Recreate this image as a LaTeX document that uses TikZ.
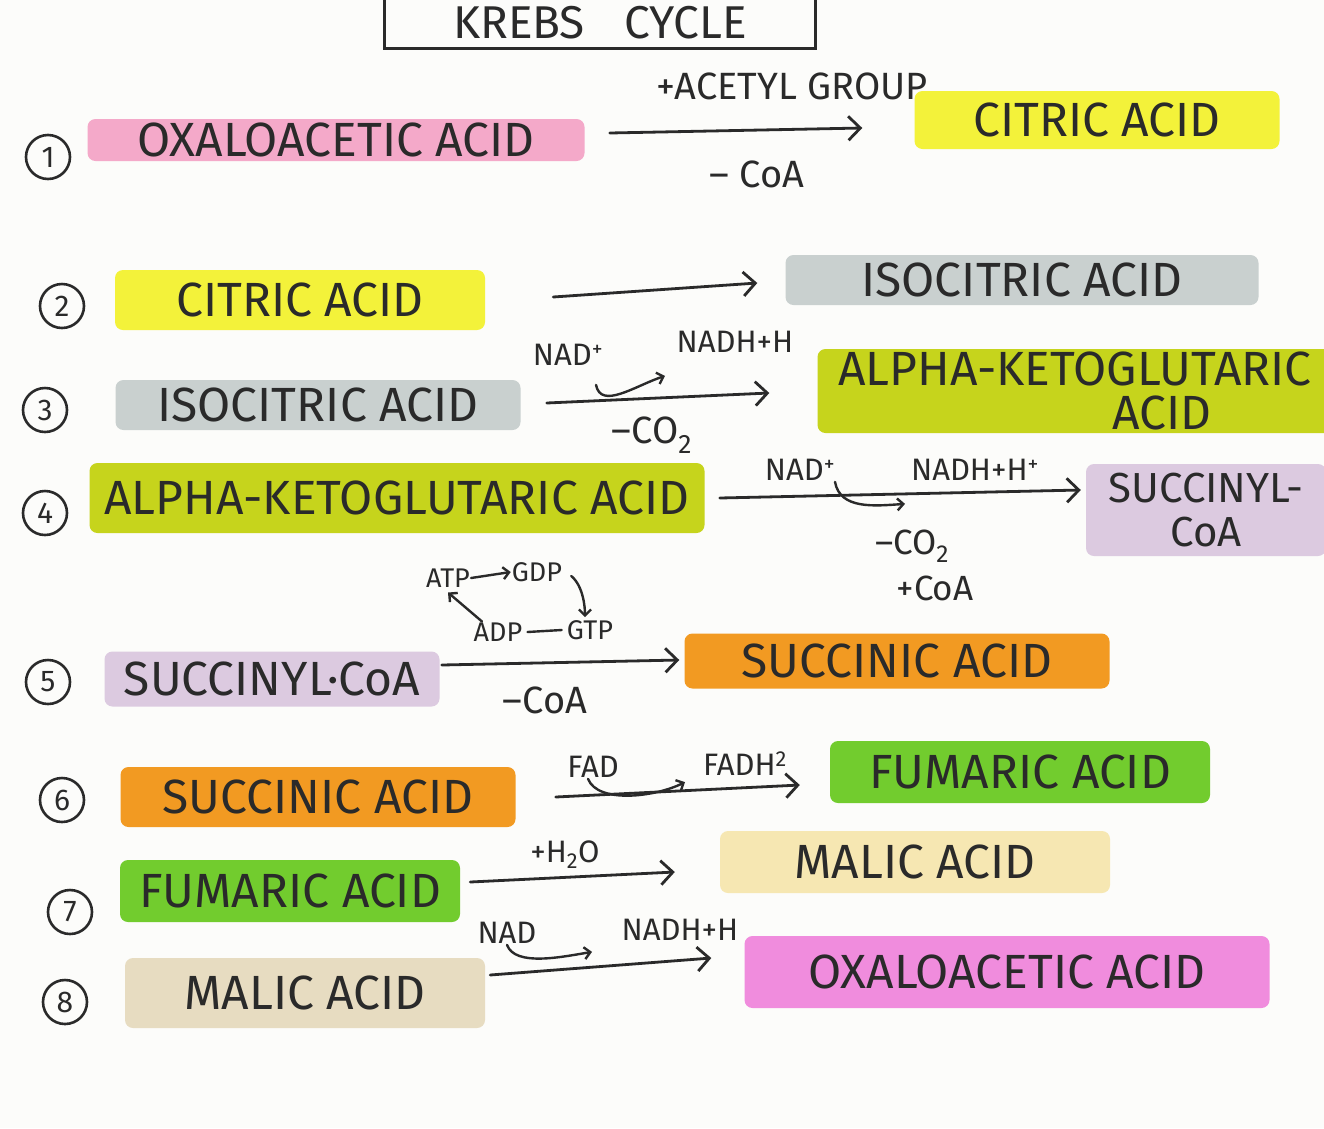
\documentclass[tikz,border=0pt]{standalone}
\usepackage{fontspec}
\setmainfont{Fira Sans}
\usetikzlibrary{arrows.meta}
\definecolor{ink}{HTML}{2A2A2A}
\definecolor{paper}{HTML}{FCFCFA}
\definecolor{pinkA}{HTML}{F4A9C9}
\definecolor{yellowA}{HTML}{F3F23A}
\definecolor{grayA}{HTML}{C9D0CF}
\definecolor{ygA}{HTML}{C6D41C}
\definecolor{lavA}{HTML}{DCCAE0}
\definecolor{orangeA}{HTML}{F29A22}
\definecolor{greenA}{HTML}{72CC2E}
\definecolor{paleY}{HTML}{F6E7B2}
\definecolor{beigeA}{HTML}{E7DCC1}
\definecolor{magA}{HTML}{F08CDD}
\tikzset{
  lab/.style={fill=#1, rounded corners=8pt, inner sep=0pt, text=ink,
    font=\fontsize{48}{44}\selectfont},
  num/.style={circle, draw=ink, line width=2.6pt, minimum size=44pt,
    inner sep=0pt, text=ink, font=\fontsize{30}{32}\selectfont},
  note/.style={text=ink, inner sep=1pt, font=\fontsize{38}{42}\selectfont},
  snote/.style={text=ink, inner sep=1pt, font=\fontsize{31}{33}\selectfont},
  tnote/.style={text=ink, inner sep=1pt, font=\fontsize{27}{29}\selectfont},
  arr/.style={draw=ink, line width=2.8pt, line cap=round,
    -{Straight Barb[length=12pt,width=24pt,line width=2.8pt]}},
  sarr/.style={draw=ink, line width=2.4pt, line cap=round,
    -{Straight Barb[length=6pt,width=12pt,line width=2.4pt]}},
  sline/.style={draw=ink, line width=2.4pt, line cap=round},
}
\begin{document}
\begin{tikzpicture}[x=1pt,y=-1pt]
\fill[paper] (0,0) rectangle (1324,1128);
\useasboundingbox (0,0) rectangle (1324,1128);

% title
\node[text=ink, font=\fontsize{46}{50}\selectfont, minimum width=430pt,
  minimum height=50pt, inner sep=0pt] (title) at (600,23) {KREBS\hspace{40pt}CYCLE};
\draw[sline, line width=2.8pt] ([yshift=6pt]title.north west) -- (title.south west)
  -- (title.south east) -- ([yshift=6pt]title.north east);

% row 1
\node[num] (n1) at (48,157) {1};
\node[lab=pinkA, minimum width=497pt, minimum height=42pt] (oxa1) at (336,140) {OXALOACETIC ACID};
\node[lab=yellowA, minimum width=365pt, minimum height=58pt] (cit1) at (1097,120) {CITRIC ACID};
\draw[arr] ([shift={(25,-7)}]oxa1.east) -- ([shift={(-52,8)}]cit1.west);
\node[note] (acg) at (792,86) {+ACETYL GROUP};
\node[note] (coa1) at (757,174) {– CoA};

% row 2
\node[num] (n2) at (62,306) {2};
\node[lab=yellowA, minimum width=370pt, minimum height=60pt] (cit2) at (300,300) {CITRIC ACID};
\node[lab=grayA, minimum width=473pt, minimum height=50pt] (iso2) at (1022,280) {ISOCITRIC ACID};
\draw[arr] ([shift={(68,-3)}]cit2.east) -- ([shift={(-28,3)}]iso2.west);

% row 3
\node[num] (n3) at (45,410) {3};
\node[lab=grayA, minimum width=405pt, minimum height=50pt] (iso3) at (318,405) {ISOCITRIC ACID};
\node[lab=ygA, minimum width=515pt, minimum height=84pt, align=right] (akg3) at (1075,391)
  {ALPHA-KETOGLUTARIC\\ACID\hspace*{100pt}};
\draw[arr] ([shift={(26,-2)}]iso3.east) -- ([shift={(-48,2)}]akg3.west);
\node[snote] (nad3) at (568,355) {NAD\textsuperscript{+}};
\node[snote] (nadh3) at (735,342) {NADH+H};
\draw[sarr] ([shift={(28,18)}]nad3.south) .. controls +(5,25) and +(-30,10) .. ([shift={(-70,22)}]nadh3.south);
\node[note] (co3) at (652,435) {–CO\textsubscript{2}};

% row 4
\node[num] (n4) at (45,513) {4};
\node[lab=ygA, minimum width=615pt, minimum height=70pt] (akg4) at (397,498) {ALPHA-KETOGLUTARIC ACID};
\node[lab=lavA, minimum width=240pt, minimum height=92pt, align=center,
  font=\fontsize{42}{44}\selectfont] (suc4) at (1206,510) {SUCCINYL-\\CoA};
\draw[arr] ([shift={(15,0)}]akg4.east) -- ([shift={(-5,-20)}]suc4.west);
\node[snote] (nad4) at (800,470) {NAD\textsuperscript{+}};
\node[snote] (nadh4) at (975,470) {NADH+H\textsuperscript{+}};
\draw[sarr] ([shift={(35,0)}]nad4.south) .. controls +(5,28) and +(-30,2) .. ([shift={(-70,22)}]nadh4.south);
\node[note, font=\fontsize{35}{38}\selectfont] (co4) at (912,546) {–CO\textsubscript{2}};
\node[note, font=\fontsize{35}{38}\selectfont] (coa4) at (935,588) {+CoA};

% row 5
\node[num] (n5) at (48,682) {5};
\node[lab=lavA, minimum width=335pt, minimum height=55pt] (sca5) at (272,679) {SUCCINYL·CoA};
\node[lab=orangeA, minimum width=425pt, minimum height=55pt] (sa5) at (897,661) {SUCCINIC ACID};
\draw[arr] ([shift={(2,-14)}]sca5.east) -- ([shift={(-5,-1)}]sa5.west);
\node[tnote] (atp) at (448,578) {ATP};
\node[tnote] (gdp) at (537,572) {GDP};
\node[tnote] (adp) at (498,632) {ADP};
\node[tnote] (gtp) at (590,630) {GTP};
\draw[sarr] (atp.east) -- (gdp.west);
\draw[sarr] ([shift={(8,4)}]gdp.east) .. controls +(12,10) and +(0,-10) .. ([shift={(-5,-2)}]gtp.north);
\draw[sline] ([xshift=4pt]adp.east) -- ([xshift=-4pt]gtp.west);
\draw[sarr] ([xshift=-16pt]adp.north) -- ([shift={(0,4)}]atp.south);
\node[note] (coa5) at (545,700) {–CoA};

% row 6
\node[num] (n6) at (62,800) {6};
\node[lab=orangeA, minimum width=395pt, minimum height=60pt] (sa6) at (318,797) {SUCCINIC ACID};
\node[lab=greenA, minimum width=380pt, minimum height=62pt] (fa6) at (1020,772) {FUMARIC ACID};
\draw[arr] ([shift={(40,0)}]sa6.east) -- ([shift={(-30,13)}]fa6.west);
\node[snote] (fad6) at (593,767) {FAD};
\node[snote] (fadh6) at (745,764) {FADH\textsuperscript{2}};
\draw[sarr] ([shift={(-5,0)}]fad6.south) .. controls +(10,25) and +(-30,15) .. ([shift={(-60,5)}]fadh6.south);

% row 7
\node[num] (n7) at (70,912) {7};
\node[lab=greenA, minimum width=340pt, minimum height=62pt] (fa7) at (290,891) {FUMARIC ACID};
\node[lab=paleY, minimum width=390pt, minimum height=62pt] (ma7) at (915,862) {MALIC ACID};
\draw[arr] ([shift={(10,-9)}]fa7.east) -- ([shift={(-45,10)}]ma7.west);
\node[snote] (h2o) at (565,855) {+H\textsubscript{2}O};

% row 8
\node[num] (n8) at (65,1002) {8};
\node[lab=beigeA, minimum width=360pt, minimum height=70pt] (ma8) at (305,993) {MALIC ACID};
\node[lab=magA, minimum width=525pt, minimum height=72pt] (oa8) at (1007,972) {OXALOACETIC ACID};
\draw[arr] ([shift={(5,-18)}]ma8.east) -- ([shift={(-33,-14)}]oa8.west);
\node[snote] (nad8) at (507,933) {NAD};
\node[snote] (nadh8) at (680,930) {NADH+H};
\draw[sarr] ([shift={(0,0)}]nad8.south) .. controls +(8,22) and +(-30,5) .. ([shift={(-88,10)}]nadh8.south);
\end{tikzpicture}
\end{document}
